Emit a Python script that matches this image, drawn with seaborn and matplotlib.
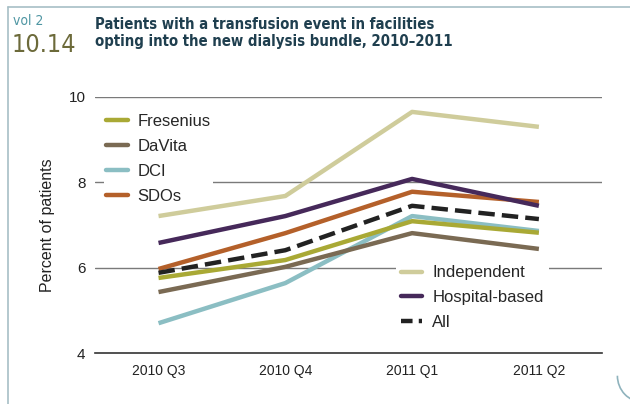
import numpy as np
import pandas as pd
import seaborn as sns
import matplotlib.pyplot as plt
from matplotlib.lines import Line2D
from matplotlib.patches import Arc

quarters = ['2010 Q3', '2010 Q4', '2011 Q1', '2011 Q2']

fresenius = [5.76, 6.18, 7.09, 6.82]
davita = [5.43, 6.02, 6.81, 6.44]
dci = [4.70, 5.64, 7.21, 6.86]
sdos = [5.97, 6.81, 7.78, 7.54]
independent = [7.21, 7.68, 9.65, 9.30]
hospital = [6.58, 7.21, 8.08, 7.45]
all_fac = [5.88, 6.41, 7.45, 7.14]

series = ['Fresenius', 'DaVita', 'DCI', 'SDOs', 'Independent', 'Hospital-based', 'All']
values = [fresenius, davita, dci, sdos, independent, hospital, all_fac]
colors = ['#a9a935', '#7a6a53', '#8bbec3', '#b4602a', '#cfcc9b', '#46295a', '#222222']

rows = []
for name, vals in zip(series, values):
    for i, v in enumerate(vals):
        rows.append({'group': name, 'x': i, 'pct': v})
df = pd.DataFrame(rows)

sns.set_style('white')
plt.rcParams['font.family'] = ['Liberation Sans', 'DejaVu Sans']

fig = plt.figure(figsize=(6.3, 4.04), dpi=100)
ax = fig.add_axes([0.151, 0.126, 0.805, 0.634])

# lighter lines first so the dark ones sit on top
draw_order = ['Independent', 'DCI', 'DaVita', 'Fresenius', 'SDOs', 'All', 'Hospital-based']
pal = dict(zip(series, colors))
for name in draw_order:
    sub = df[df['group'] == name]
    sns.lineplot(data=sub, x='x', y='pct', color=pal[name], lw=3.2, ax=ax,
                 linestyle='--' if name == 'All' else '-',
                 dashes=(2.6, 1.4) if name == 'All' else None, zorder=3,
                 solid_capstyle='butt')

ax.set_xlim(-0.5, 3.5)
ax.set_ylim(4, 10)
ax.set_yticks([4, 6, 8, 10])
ax.set_xticks(range(4))
ax.set_xticklabels(quarters, fontsize=10, color='#222222')
ax.tick_params(axis='y', labelsize=11, length=0, pad=7, labelcolor='#222222')
ax.tick_params(axis='x', direction='in', length=7, color='#888888', width=1, pad=8)
for y in [6, 8, 10]:
    ax.axhline(y, color='#7a7a7a', lw=1, zorder=1)
for s in ['top', 'right', 'left']:
    ax.spines[s].set_visible(False)
ax.spines['bottom'].set_color('#333333')
ax.spines['bottom'].set_linewidth(1.2)
ax.set_xlabel('')
ax.set_ylabel('Percent of patients', fontsize=11.5, color='#222222', labelpad=10)

def handle(name):
    return Line2D([0], [0], color=pal[name], lw=3.2,
                  linestyle=(0, (2.6, 1.4)) if name == 'All' else '-',
                  solid_capstyle='round')

# legends sit above the gridlines but below the data lines
leg1 = ax.legend([handle(n) for n in series[:4]], series[:4], loc='upper left',
                 bbox_to_anchor=(0.01, 0.955), fontsize=12, frameon=True,
                 facecolor='white', edgecolor='none', framealpha=1,
                 handlelength=1.3, handletextpad=0.6, labelspacing=0.6,
                 borderpad=0.15, borderaxespad=0.2)
leg1.set_zorder(2)
ax.add_artist(leg1)
leg2 = ax.legend([handle(n) for n in series[4:]], series[4:], loc='upper left',
                 bbox_to_anchor=(0.586, 0.375), fontsize=12, frameon=True,
                 facecolor='white', edgecolor='none', framealpha=1,
                 handlelength=1.3, handletextpad=0.6, labelspacing=0.58,
                 borderpad=0.3, borderaxespad=0.2)
leg2.set_zorder(2)

# header
cond = dict(family='DejaVu Sans', fontstretch='condensed')
fig.text(0.021, 0.938, 'vol 2', fontsize=10, color='#4f96a3', **cond)
fig.text(0.018, 0.872, '10.14', fontsize=18, color='#6c6a3a', **cond)
fig.text(0.151, 0.885, 'Patients with a transfusion event in facilities\nopting into the new dialysis bundle, 2010\u20132011',
         fontsize=10.7, fontweight='bold', color='#1f3f4f', linespacing=1.2, **cond)

# page border
fig.add_artist(Line2D([0.013, 0.013], [0.0, 0.983], color='#a7bfc6', lw=1.2))
fig.add_artist(Line2D([0.013, 1.0], [0.983, 0.983], color='#a7bfc6', lw=1.2))
fig.add_artist(Arc((1.02, 0.07), 0.08, 0.13, theta1=180, theta2=270,
                   transform=fig.transFigure, color='#8fb3bd', lw=1.2))

fig.savefig('out.png', dpi=100)
